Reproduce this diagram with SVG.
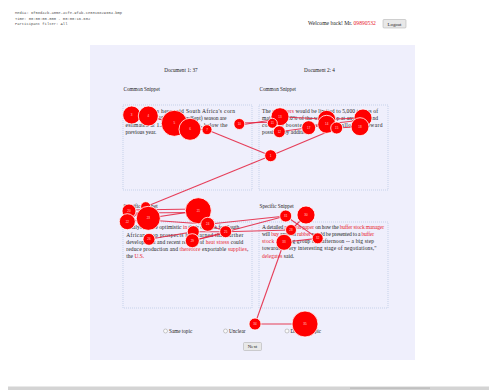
<svg xmlns="http://www.w3.org/2000/svg" width="489" height="390" viewBox="0 0 489 390">
<defs>
<style>
.mono{font-family:"Liberation Mono",monospace;font-size:3.8px;fill:#555}
.ser{font-family:"Liberation Serif",serif;fill:#222}
.t{font-size:5.5px}
.h{font-size:5.2px}
.red{fill:#e8202c}
.box{fill:none;stroke:#a8bedc;stroke-width:0.6;stroke-dasharray:1,1}
.fx{fill:#ff0000;stroke:#ffffff;stroke-width:0.8}
.fl{font-family:"Liberation Sans",sans-serif;font-size:3px;fill:#ffd0d0;text-anchor:middle}
.ln{stroke:#e41e3c;stroke-width:1.1;fill:none;opacity:0.85}
.btn{fill:#e8e8e8;stroke:#a8a8a8;stroke-width:0.5}
.radio{fill:#fafafa;stroke:#999;stroke-width:0.5}
</style>
</defs>
<rect width="489" height="390" fill="#ffffff"/>
<g id="header">
<text class="mono" x="15" y="14">Media: 6f58d42b-a05e-4cfe-9fab-ce0316829654.bmp</text>
<text class="mono" x="15" y="19.5">Time: 00:00:00.000 - 00:00:16.602</text>
<text class="mono" x="15" y="25">Participant filter: All</text>
<text class="ser" x="308" y="25" font-size="5.6">Welcome back! Mr. <tspan class="red">09890532</tspan></text>
<rect class="btn" x="383" y="19.5" width="23" height="8.5" rx="1"/>
<text class="ser" x="394.5" y="25.8" font-size="4.8" text-anchor="middle">Logout</text>
</g>
<rect id="panel" x="90" y="45" width="325" height="315" fill="#efeffc"/>
<g id="titles" class="ser h">
<text x="181" y="71.5" text-anchor="middle">Document 1: 37</text>
<text x="319.5" y="71.5" text-anchor="middle">Document 2: 4</text>
<text x="123.5" y="90.5">Common Snippet</text>
<text x="259.5" y="90.5">Common Snippet</text>
<text x="123.5" y="208">Specific Snippet</text>
<text x="259.5" y="208">Specific Snippet</text>
</g>
<g id="box-common-1">
<rect class="box" x="123" y="105" width="129" height="85"/>
<g class="ser t">
<text x="125.5" y="112.5" textLength="109.5" lengthAdjust="spacing">Grain traders here said South Africa's corn</text>
<text x="125.5" y="119.5" textLength="101" lengthAdjust="spacing">exports for the 1996/97 (May/Sept) season are</text>
<text x="125.5" y="126.5" textLength="102" lengthAdjust="spacing">estimated at 1.2 million tonnes, below the</text>
<text x="125.5" y="133.5">previous year.</text>
</g>
</g>
<g id="box-common-2">
<rect class="box" x="259" y="105" width="129" height="85"/>
<g class="ser t">
<text x="262" y="112.5" textLength="116" lengthAdjust="spacing">The <tspan class="red">exporters</tspan> would be limited to 5,000 tonnes of</text>
<text x="262" y="119.5" textLength="116" lengthAdjust="spacing">maize and 20% of the wheat crop at any time, and</text>
<text x="262" y="126.7" textLength="120.5" lengthAdjust="spacing">could be boosted if conditions allowed, toward</text>
<text x="262" y="133.7">possible key additions.</text>
</g>
</g>
<g id="box-specific-1">
<rect class="box" x="123" y="222" width="129" height="86"/>
<g class="ser t">
<text x="126.3" y="229.3" textLength="113" lengthAdjust="spacing">Analysts were optimistic <tspan class="red">in</tspan> their outlook for South</text>
<text x="126.3" y="236.5" textLength="117" lengthAdjust="spacing">African crop prospects but warned that further</text>
<text x="126.3" y="243.8" textLength="117" lengthAdjust="spacing">development and recent reports of <tspan class="red">heat stress</tspan> could</text>
<text x="126.3" y="251" textLength="122" lengthAdjust="spacing">reduce production and <tspan class="red">therefore</tspan> exportable <tspan class="red">supplies</tspan>,</text>
<text x="126.3" y="258.3">the <tspan class="red">U.S.</tspan></text>
</g>
</g>
<g id="box-specific-2">
<rect class="box" x="259" y="222" width="129" height="86"/>
<g class="ser t">
<text x="262" y="229.3" textLength="122" lengthAdjust="spacing">A detailed <tspan class="red">position paper</tspan> on how the <tspan class="red">buffer stock manager</tspan></text>
<text x="262" y="236.2" textLength="112" lengthAdjust="spacing">will <tspan class="red">buy</tspan> and sell <tspan class="red">rubber</tspan> would be presented to a <tspan class="red">buffer</tspan></text>
<text x="262" y="243" textLength="112" lengthAdjust="spacing"><tspan class="red">stock</tspan> working group this afternoon -- a big step</text>
<text x="262" y="250.2" textLength="114.5" lengthAdjust="spacing">towards a very interesting stage of negotiations,"</text>
<text x="262" y="257.7"><tspan class="red">delegates</tspan> said.</text>
</g>
</g>
<g id="answers" class="ser">
<circle class="radio" cx="165.5" cy="331" r="2"/>
<text x="169" y="333" font-size="5.2">Same topic</text>
<circle class="radio" cx="225.5" cy="331" r="2"/>
<text x="229" y="333" font-size="5.2">Unclear</text>
<circle class="radio" cx="287" cy="331" r="2"/>
<text x="290.5" y="333" font-size="5.2">Different topic</text>
<rect class="btn" x="243.5" y="342.5" width="18" height="8" rx="1"/>
<text x="252.5" y="348.3" font-size="4.8" text-anchor="middle">Next</text>
</g>
<g id="statusbar">
<rect x="8" y="386.5" width="481" height="3.5" fill="#d4d4d4"/>
<rect x="350" y="387.3" width="80" height="1.6" fill="#b0b0b0" opacity="0.6"/>
</g>
<g id="connectors">
<polyline class="ln" points="131.7,115 148.3,116 174.3,123.3 190,129.3 207,129.7"/>
<line class="ln" x1="207" y1="129.7" x2="270.7" y2="155.7"/>
<line class="ln" x1="239.3" y1="123" x2="272.3" y2="122.3"/>
<line class="ln" x1="239.3" y1="125.2" x2="280" y2="118.5"/>
<polyline class="ln" points="272.3,123.3 280,116.7 279.3,131.7 308.7,127.7 326.7,124.3 336.7,128 360,126.7"/>
<polyline class="ln" points="280,116.7 326.7,119.3 363,118"/>
<line class="ln" x1="308.7" y1="126" x2="363" y2="120"/>
<line class="ln" x1="270.7" y1="155.7" x2="336.7" y2="128"/>
<line class="ln" x1="270.7" y1="155.7" x2="145.7" y2="206.7"/>
<line class="ln" x1="129" y1="210" x2="198.3" y2="209"/>
<line class="ln" x1="129" y1="213" x2="198.3" y2="212.5"/>
<polyline class="ln" points="145.7,206.7 127.3,221.7 148.3,218.3 198.3,210.7 207.7,224.3 225.7,231.7"/>
<line class="ln" x1="148.3" y1="220" x2="207.7" y2="224.3"/>
<line class="ln" x1="207.7" y1="224.3" x2="285.7" y2="216"/>
<line class="ln" x1="225.7" y1="231.7" x2="291" y2="230"/>
<polyline class="ln" points="149,239.3 193.3,231.7 225.7,231.7"/>
<line class="ln" x1="192.3" y1="240.7" x2="225.7" y2="233"/>
<line class="ln" x1="192.3" y1="240.7" x2="285.7" y2="216"/>
<polyline class="ln" points="285.7,216 317.7,238.3 284,242.3"/>
<line class="ln" x1="291" y1="230" x2="306" y2="215"/>
<line class="ln" x1="284" y1="242.3" x2="255" y2="324"/>
<line class="ln" x1="255" y1="324" x2="305" y2="324"/>
</g>
<g id="fixations">
<g id="f3"><circle class="fx" cx="131.7" cy="115" r="9"/><text class="fl" x="131.7" y="116">3</text></g>
<g id="f4"><circle class="fx" cx="148.3" cy="116" r="10"/><text class="fl" x="148.3" y="117">4</text></g>
<g id="f5"><circle class="fx" cx="174.3" cy="123.3" r="13"/><text class="fl" x="174.3" y="124.3">5</text></g>
<g id="f6"><circle class="fx" cx="190" cy="129.3" r="11"/><text class="fl" x="190" y="130.3">6</text></g>
<g id="f7"><circle class="fx" cx="207" cy="129.7" r="5"/><text class="fl" x="207" y="130.7">7</text></g>
<g id="f10"><circle class="fx" cx="239.3" cy="124" r="5.5"/><text class="fl" x="239.3" y="125">10</text></g>
<g id="f1"><circle class="fx" cx="270.7" cy="155.7" r="6"/><text class="fl" x="270.7" y="156.7">1</text></g>
<g id="f13"><circle class="fx" cx="280" cy="116.7" r="9"/><text class="fl" x="280" y="117.7">13</text></g>
<g id="f11"><circle class="fx" cx="272.3" cy="123.3" r="5"/><text class="fl" x="272.3" y="124.3">11</text></g>
<g id="f12"><circle class="fx" cx="279.3" cy="131.7" r="6"/><text class="fl" x="279.3" y="132.7">12</text></g>
<g id="f17"><circle class="fx" cx="308.7" cy="127.7" r="7"/><text class="fl" x="308.7" y="128.7">17</text></g>
<g id="f16"><circle class="fx" cx="326.7" cy="119.3" r="9"/></g>
<g id="f14"><circle class="fx" cx="326.7" cy="124.3" r="9"/><text class="fl" x="326.7" y="125.3">14</text></g>
<g id="f15"><circle class="fx" cx="336.7" cy="128" r="6"/><text class="fl" x="336.7" y="129">15</text></g>
<g id="f18b"><circle class="fx" cx="363" cy="118" r="9"/></g>
<g id="f18"><circle class="fx" cx="360" cy="126.7" r="9"/><text class="fl" x="360" y="127.7">18</text></g>
<g id="f20"><circle class="fx" cx="129" cy="211" r="7"/><text class="fl" x="129" y="212">20</text></g>
<g id="f19"><circle class="fx" cx="145.7" cy="206.7" r="5"/></g>
<g id="f22"><circle class="fx" cx="127.3" cy="221.7" r="8"/><text class="fl" x="127.3" y="222.7">22</text></g>
<g id="f23"><circle class="fx" cx="148.3" cy="218.3" r="12"/><text class="fl" x="148.3" y="219.3">23</text></g>
<g id="f21"><circle class="fx" cx="198.3" cy="210.7" r="13"/><text class="fl" x="198.3" y="211.7">21</text></g>
<g id="f24"><circle class="fx" cx="207.7" cy="224.3" r="7"/><text class="fl" x="207.7" y="225.3">24</text></g>
<g id="f25"><circle class="fx" cx="225.7" cy="231.7" r="6"/><text class="fl" x="225.7" y="232.7">25</text></g>
<g id="f27"><circle class="fx" cx="193.3" cy="231.7" r="6"/></g>
<g id="f26"><circle class="fx" cx="149" cy="239.3" r="6"/><text class="fl" x="149" y="240.3">26</text></g>
<g id="f29"><circle class="fx" cx="192.3" cy="240.7" r="7"/><text class="fl" x="192.3" y="241.7">29</text></g>
<g id="f31"><circle class="fx" cx="285.7" cy="216" r="6"/><text class="fl" x="285.7" y="217">31</text></g>
<g id="f30"><circle class="fx" cx="306" cy="215" r="9"/><text class="fl" x="306" y="216">30</text></g>
<g id="f28"><circle class="fx" cx="291" cy="230" r="5.5"/><text class="fl" x="291" y="231">28</text></g>
<g id="f32"><circle class="fx" cx="317.7" cy="238.3" r="5.5"/><text class="fl" x="317.7" y="239.3">32</text></g>
<g id="f33"><circle class="fx" cx="284" cy="242.3" r="8"/><text class="fl" x="284" y="243.3">33</text></g>
<g id="f34"><circle class="fx" cx="255" cy="324" r="6"/><text class="fl" x="255" y="325">34</text></g>
<g id="f35"><circle class="fx" cx="305" cy="324" r="13"/><text class="fl" x="305" y="325">35</text></g>
</g>
</svg>
